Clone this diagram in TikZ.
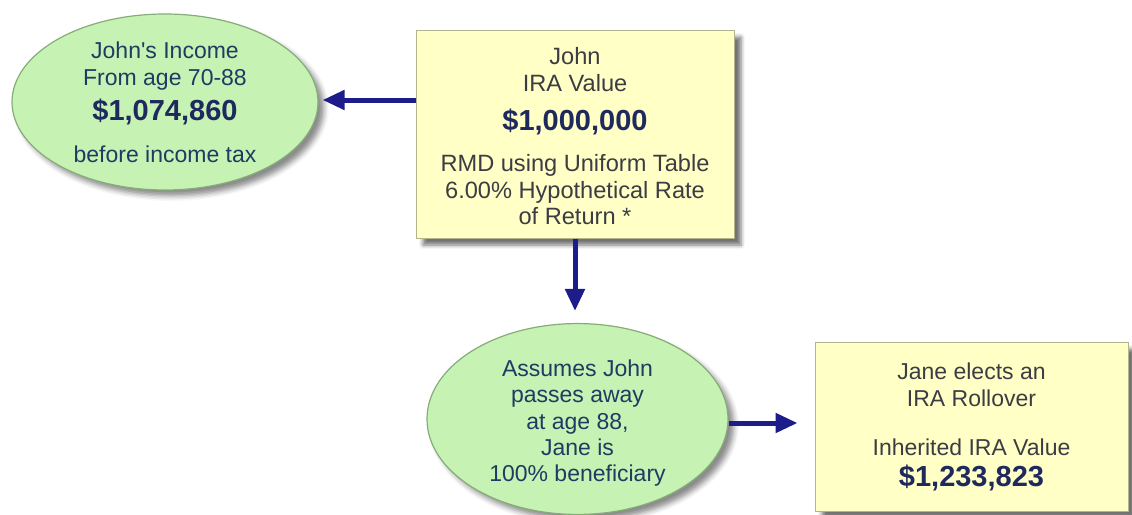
\documentclass[tikz,border=0pt]{standalone}
\usepackage{fontspec}
\setmainfont{Liberation Sans}
\usetikzlibrary{shapes.geometric,arrows.meta,shadows.blur}
\definecolor{ellfill}{HTML}{C6F2B4}
\definecolor{elldraw}{HTML}{86AC78}
\definecolor{boxfill}{HTML}{FFFFC6}
\definecolor{boxdraw}{HTML}{B4B48C}
\definecolor{elltext}{HTML}{1E3C62}
\definecolor{boxtext}{HTML}{3C3C44}
\definecolor{numtext}{HTML}{1E2A5E}
\definecolor{arrowc}{HTML}{1C1C8A}
\tikzset{
  oval/.style={ellipse, draw=elldraw, line width=1.2pt, fill=ellfill, inner sep=0pt,
    text=elltext, align=center, font=\fontsize{23}{27}\selectfont,
    blur shadow={shadow xshift=6pt, shadow yshift=-6pt, shadow blur radius=5pt, shadow opacity=45}},
  panel/.style={rectangle, draw=boxdraw, line width=1pt, fill=boxfill, inner sep=0pt,
    text=boxtext, align=center, font=\fontsize{23}{27}\selectfont,
    blur shadow={shadow xshift=7pt, shadow yshift=-7pt, shadow blur radius=4pt, shadow opacity=55}},
  arr/.style={draw=arrowc, line width=5pt, -{Triangle[length=22pt,width=19pt]}, arrowc}
}
\newcommand{\bignum}[1]{{\fontsize{29}{27}\selectfont\bfseries\color{numtext}#1}}
\begin{document}
\begin{tikzpicture}[x=1pt,y=-1pt]
\useasboundingbox (0,0) rectangle (1132,514);
\node[oval, minimum width=306pt, minimum height=176pt] (income) at (165,102)
  {John\textquotesingle s Income\\ From age 70-88\\[8pt] \bignum{\$1,074,860}\\[15pt] before income tax};
\node[panel, minimum width=318pt, minimum height=208pt, font=\fontsize{23.6}{26.6}\selectfont] (john) at (575,134)
  {\rule{0pt}{22pt}John\\ IRA Value\\[12pt] \bignum{\$1,000,000}\\[15pt] RMD using Uniform Table\\ 6.00\% Hypothetical Rate\\ of Return *};
\node[oval, minimum width=301pt, minimum height=178pt, font=\fontsize{23}{26.3}\selectfont] (assume) at (577.5,419)
  {\rule{0pt}{25pt}Assumes John\\ passes away\\ at age 88,\\ Jane is\\ 100\% beneficiary};
\node[panel, minimum width=313pt, minimum height=169pt] (rollover) at (971.5,426.5)
  {Jane elects an\\ IRA Rollover\\[22pt] Inherited IRA Value\\[4pt] \bignum{\$1,233,823}};
\draw[arr] ([yshift=34pt]john.west) -- ([xshift=4pt,yshift=2pt]income.east);
\draw[arr, shorten >=12pt] (john.south) -- (john.south |- assume.north);
\draw[arr, shorten >=17pt] ([yshift=-4pt]assume.east) -- ([yshift=-4pt]assume.east -| rollover.west);
\end{tikzpicture}
\end{document}
